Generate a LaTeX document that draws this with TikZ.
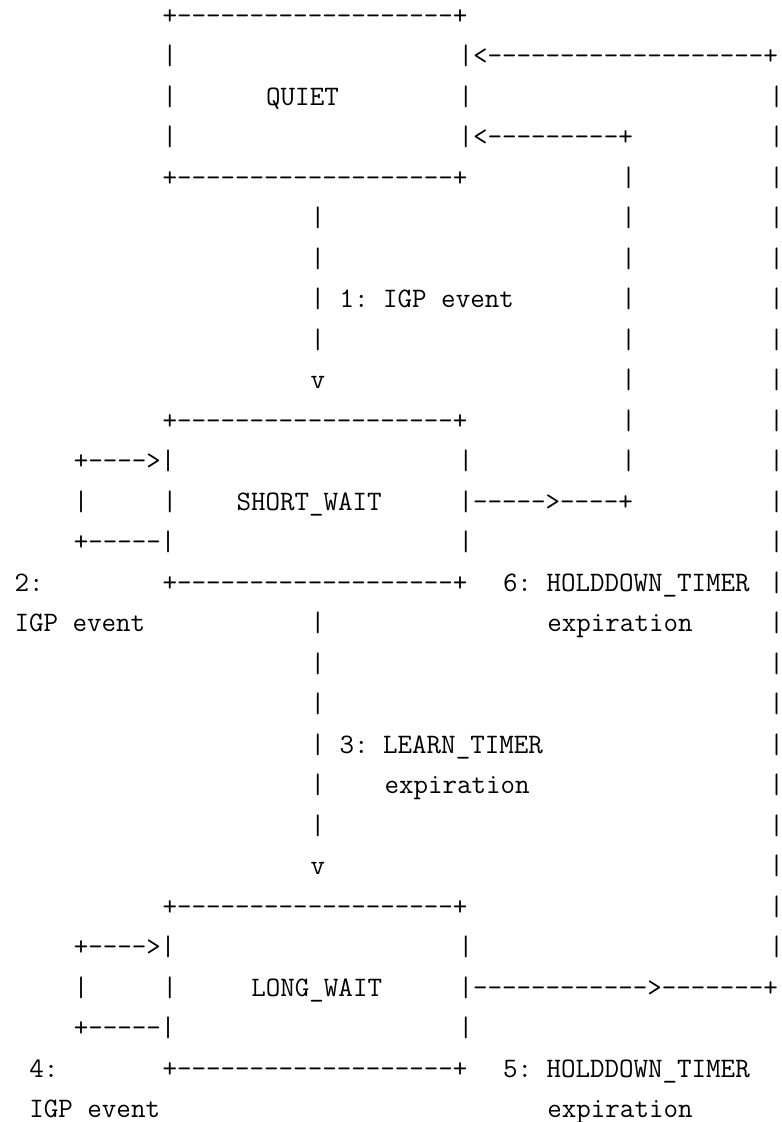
\documentclass[tikz,border=0pt]{standalone}
\usepackage{fontspec}
\newcommand\asc[4]{\node[asciitxt] (#1) at ({14.6+14.8*#3},{24+40.5*(#2-1)}) {#4};}
\begin{document}
\begin{tikzpicture}[x=0.75pt,y=-0.75pt,
  asciitxt/.style={anchor=base west,inner sep=0pt,outer sep=0pt,text=black,
    font=\ttfamily\fontsize{21.14pt}{24pt}\selectfont\frenchspacing}]
\useasboundingbox (0,0) rectangle (782,1122);
% line 1
\asc{qtop}{1}{10}{+-------------------+}
% line 2
\asc{ql2}{2}{10}{|}
\asc{back6}{2}{30}{|<-------------------+}
% line 3
\asc{ql3}{3}{10}{|}
\asc{quiet}{3}{17}{QUIET}
\asc{qr3}{3}{30}{|}
\asc{r3}{3}{51}{|}
% line 4
\asc{ql4}{4}{10}{|}
\asc{back5}{4}{30}{|<---------+}
\asc{r4}{4}{51}{|}
% line 5
\asc{qbot}{5}{10}{+-------------------+}
\asc{m5}{5}{41}{|}
\asc{r5}{5}{51}{|}
% lines 6-10
\asc{v6}{6}{20}{|}\asc{m6}{6}{41}{|}\asc{r6}{6}{51}{|}
\asc{v7}{7}{20}{|}\asc{m7}{7}{41}{|}\asc{r7}{7}{51}{|}
\asc{e1}{8}{20}{| 1: IGP event}\asc{m8}{8}{41}{|}\asc{r8}{8}{51}{|}
\asc{v9}{9}{20}{|}\asc{m9}{9}{41}{|}\asc{r9}{9}{51}{|}
\asc{v10}{10}{20}{v}\asc{m10}{10}{41}{|}\asc{r10}{10}{51}{|}
% line 11
\asc{stop}{11}{10}{+-------------------+}
\asc{m11}{11}{41}{|}\asc{r11}{11}{51}{|}
% line 12
\asc{sl12}{12}{4}{+---->|}
\asc{sr12}{12}{30}{|}\asc{m12}{12}{41}{|}\asc{r12}{12}{51}{|}
% line 13
\asc{sl13a}{13}{4}{|}\asc{sl13b}{13}{10}{|}
\asc{short}{13}{15}{SHORT\_WAIT}
\asc{out6}{13}{30}{|----->----+}
\asc{r13}{13}{51}{|}
% line 14
\asc{sl14}{14}{4}{+-----|}
\asc{sr14}{14}{30}{|}\asc{r14}{14}{51}{|}
% line 15
\asc{e2a}{15}{0}{2:}
\asc{sbot}{15}{10}{+-------------------+}
\asc{e6a}{15}{33}{6: HOLDDOWN\_TIMER}
\asc{r15}{15}{51}{|}
% line 16
\asc{e2b}{16}{0}{IGP event}
\asc{v16}{16}{20}{|}
\asc{e6b}{16}{36}{expiration}
\asc{r16}{16}{51}{|}
% lines 17-22
\asc{v17}{17}{20}{|}\asc{r17}{17}{51}{|}
\asc{v18}{18}{20}{|}\asc{r18}{18}{51}{|}
\asc{e3a}{19}{20}{| 3: LEARN\_TIMER}\asc{r19}{19}{51}{|}
\asc{v20}{20}{20}{|}\asc{e3b}{20}{25}{expiration}\asc{r20}{20}{51}{|}
\asc{v21}{21}{20}{|}\asc{r21}{21}{51}{|}
\asc{v22}{22}{20}{v}\asc{r22}{22}{51}{|}
% line 23
\asc{ltop}{23}{10}{+-------------------+}
\asc{r23}{23}{51}{|}
% line 24
\asc{ll24}{24}{4}{+---->|}
\asc{lr24}{24}{30}{|}\asc{r24}{24}{51}{|}
% line 25
\asc{ll25a}{25}{4}{|}\asc{ll25b}{25}{10}{|}
\asc{long}{25}{16}{LONG\_WAIT}
\asc{out5}{25}{30}{|------------>-------+}
% line 26
\asc{ll26}{26}{4}{+-----|}
\asc{lr26}{26}{30}{|}
% line 27
\asc{e4a}{27}{1}{4:}
\asc{lbot}{27}{10}{+-------------------+}
\asc{e5a}{27}{33}{5: HOLDDOWN\_TIMER}
% line 28
\asc{e4b}{28}{1}{IGP event}
\asc{e5b}{28}{36}{expiration}
\end{tikzpicture}
\end{document}
